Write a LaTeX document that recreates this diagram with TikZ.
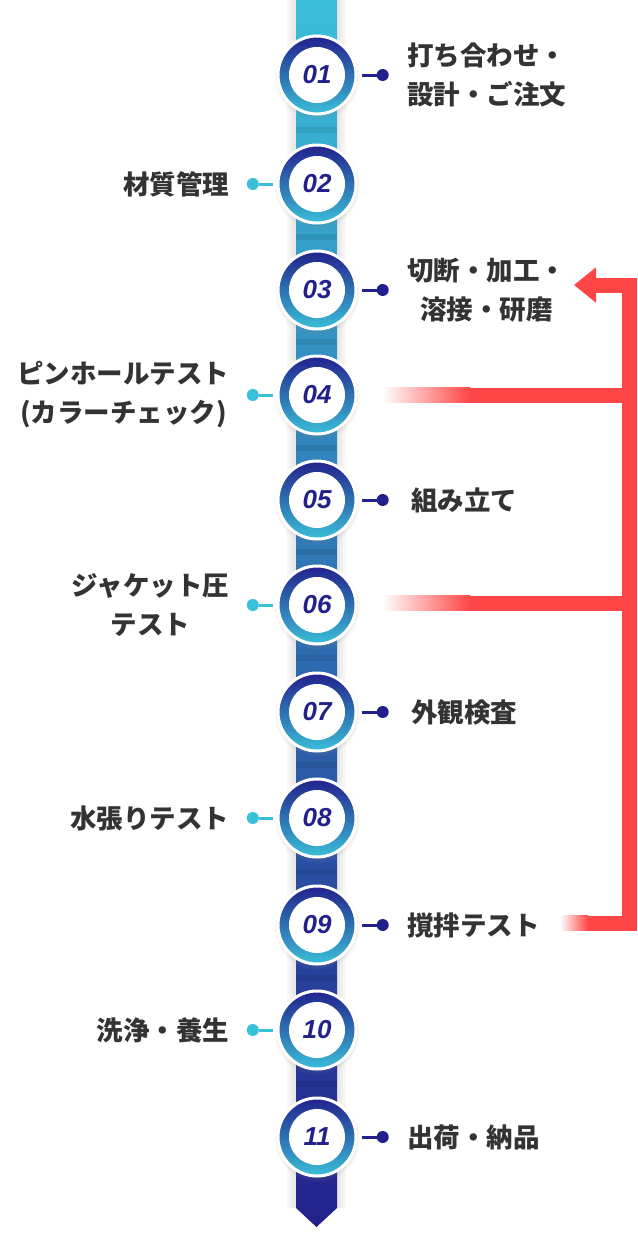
\documentclass[tikz,border=0pt]{standalone}
\usepackage{fontspec}
\usepackage{tikz}
\usetikzlibrary{arrows.meta,positioning,shadows}
\newfontfamily\jpfont{Noto Sans CJK JP}
\newfontfamily\numfont{Liberation Sans}
\definecolor{flow-navy}{HTML}{22218C}
\definecolor{flow-cyan}{HTML}{3ABFD8}
\definecolor{flow-mid}{HTML}{2C70B8}
\definecolor{flow-text}{HTML}{333333}
\definecolor{flow-red}{HTML}{FF4646}

\begin{document}
\begin{tikzpicture}[
  x=1pt, y=-1pt,
  stepcirc/.style={
    circle, minimum size=78pt, inner sep=0pt,
    draw=white, line width=3pt,
    top color=flow-navy, bottom color=flow-cyan,
    path picture={\fill[white] (path picture bounding box.center) circle (28pt);},
    circular drop shadow={shadow xshift=0pt, shadow yshift=-2pt, shadow scale=1.1, opacity=.25},
    font=\numfont\bfseries\itshape\fontsize{26}{26}\selectfont, text=flow-navy
  },
  rdot/.style={circle, fill=flow-navy, minimum size=12pt, inner sep=0pt},
  ldot/.style={circle, fill=flow-cyan, minimum size=12pt, inner sep=0pt},
  rlink/.style={draw=flow-navy, line width=3pt, shorten <=4pt},
  llink/.style={draw=flow-cyan, line width=3pt, shorten <=4pt},
  rtext/.style={right=16pt of #1, inner sep=2pt, align=center,
    font=\jpfont\bfseries\fontsize{26.5}{39}\selectfont, text=flow-text},
  ltext/.style={left=15pt of #1, inner sep=2pt, align=center,
    font=\jpfont\bfseries\fontsize{26.5}{39}\selectfont, text=flow-text},
  redline/.style={draw=flow-red, line width=15pt, line join=miter},
  fadebar/.style={left color=white, right color=flow-red}
]
\useasboundingbox (0,0) rectangle (637,1247);

%% Spine
\foreach \w in {3,6,9}
  \fill[black, opacity=.03] (296-\w,0) rectangle (337+\w,1208);
\shade[top color=flow-cyan, middle color=flow-mid, bottom color=flow-navy]
  (296,0) -- (337,0) -- (337,1208) -- (316.5,1227) -- (296,1208) -- cycle;
\foreach \y in {130,237,342,448,552,658,765,872,978,1084}
  \fill[black, opacity=.08] (296,\y-3) rectangle (337,\y+3);

%% Steps
\node[stepcirc] (c01) at (317,75) {01};
\node[stepcirc] (c02) at (317,184) {02};
\node[stepcirc] (c03) at (317,290) {03};
\node[stepcirc] (c04) at (317,395) {04};
\node[stepcirc] (c05) at (317,500) {05};
\node[stepcirc] (c06) at (317,605) {06};
\node[stepcirc] (c07) at (317,712) {07};
\node[stepcirc] (c08) at (317,818) {08};
\node[stepcirc] (c09) at (317,925) {09};
\node[stepcirc] (c10) at (317,1030) {10};
\node[stepcirc] (c11) at (317,1137) {11};

%% Dots
\node[rdot, right=19pt of c01] (d01) {};
\node[ldot, left=17.5pt of c02] (d02) {};
\node[rdot, right=19pt of c03] (d03) {};
\node[ldot, left=17.5pt of c04] (d04) {};
\node[rdot, right=19pt of c05] (d05) {};
\node[ldot, left=17.5pt of c06] (d06) {};
\node[rdot, right=19pt of c07] (d07) {};
\node[ldot, left=17.5pt of c08] (d08) {};
\node[rdot, right=19pt of c09] (d09) {};
\node[ldot, left=17.5pt of c10] (d10) {};
\node[rdot, right=19pt of c11] (d11) {};

\draw[rlink] (c01) -- (d01);
\draw[llink] (c02) -- (d02);
\draw[rlink] (c03) -- (d03);
\draw[llink] (c04) -- (d04);
\draw[rlink] (c05) -- (d05);
\draw[llink] (c06) -- (d06);
\draw[rlink] (c07) -- (d07);
\draw[llink] (c08) -- (d08);
\draw[rlink] (c09) -- (d09);
\draw[llink] (c10) -- (d10);
\draw[rlink] (c11) -- (d11);

%% Labels
\node[rtext=d01] (t01) {打ち合わせ・\\設計・ご注文};
\node[ltext=d02] (t02) {材質管理};
\node[rtext=d03] (t03) {切断・加工・\\溶接・研磨};
\node[ltext=d04] (t04) {ピンホールテスト\\(カラーチェック)};
\node[rtext=d05, xshift=4pt] (t05) {組み立て};
\node[ltext=d06] (t06) {ジャケット圧\\テスト};
\node[rtext=d07, xshift=4pt] (t07) {外観検査};
\node[ltext=d08] (t08) {水張りテスト};
\node[rtext=d09] (t09) {撹拌テスト};
\node[ltext=d10] (t10) {洗浄・養生};
\node[rtext=d11] (t11) {出荷・納品};

%% Return arrow
\coordinate (q04) at (382,395);
\coordinate (p04) at (470,395);
\coordinate (j04) at (630,395);
\coordinate (q06) at (382,603);
\coordinate (p06) at (470,603);
\coordinate (j06) at (630,603);
\coordinate (q09) at (560,923);
\coordinate (p09) at (588,923);
\coordinate (j09) at (629.5,923);
\coordinate (j03) at (629.5,285);
\coordinate (tip03) at (574,285);

\shade[fadebar] ([yshift=7.5pt]q04) rectangle ([yshift=-7.5pt]p04);
\shade[fadebar] ([yshift=7.5pt]q06) rectangle ([yshift=-7.5pt]p06);
\shade[fadebar] ([yshift=7.5pt]q09) rectangle ([yshift=-7.5pt]p09);
\draw[redline] (p04) -- (j04);
\draw[redline] (p06) -- (j06);
\draw[redline, -{Triangle[width=34pt, length=22pt]}] (p09) -- (j09) -- (j03) -- (tip03);

\end{tikzpicture}
\end{document}
